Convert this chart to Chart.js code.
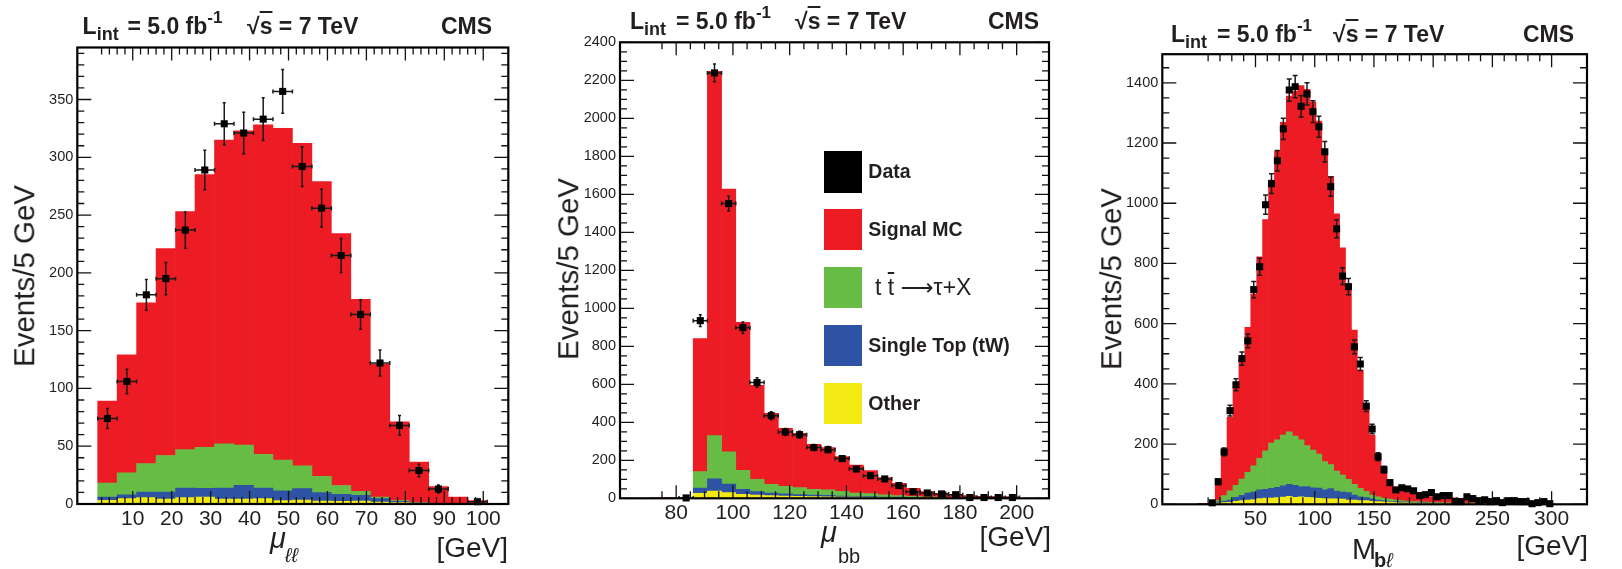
<!DOCTYPE html>
<html>
<head>
<meta charset="utf-8">
<title>Event distributions</title>
<script src="https://cdn.jsdelivr.net/npm/chart.js@4.4.1/dist/chart.umd.min.js"></script>
<style>
  html, body { margin: 0; padding: 0; background: #fff; }
  #page { position: relative; width: 1622px; height: 569px; overflow: hidden;
          font-family: "Liberation Sans", Arial, Helvetica, sans-serif; color: #231f20; }
  #page canvas { position: absolute; top: 0; }
  .txt { position: absolute; white-space: nowrap; }
  .key { position: absolute; }
  .arrow { font-family: "DejaVu Sans", sans-serif; }
</style>
</head>
<body>
<div id="page">
  <canvas id="llChart" width="540" height="569" style="left:0"></canvas>
  <canvas id="bbChart" width="540" height="569" style="left:540px"></canvas>
  <canvas id="blChart" width="542" height="569" style="left:1080px"></canvas>
</div>
<script>
// mu_ll : 5 GeV bins starting at 1 GeV
const llCenters = [3.5, 8.5, 13.5, 18.5, 23.5, 28.5, 33.5, 38.5, 43.5, 48.5, 53.5, 58.5, 63.5, 68.5, 73.5, 78.5, 83.5, 88.5, 93.5, 98.5];
const llSignal = [71, 102, 139, 179, 206, 236, 263, 272, 285, 287, 279, 255, 218, 166, 115, 68, 35, 14.4, 5.7, 2.8];
const llTtbar = [12, 19, 24.6, 31.6, 33.2, 35.5, 38.2, 34.8, 29.2, 26.5, 19.7, 14.2, 7.6, 3.5, 1.4, 0.7, 0.3, 0.2, 0.1, 0.1];
const llSingleTop = [2.8, 3.4, 4.9, 6.1, 8.3, 7.5, 9.5, 11.9, 9.2, 8.6, 9.8, 7.2, 6.1, 4.9, 2.9, 1.1, 0.4, 0.2, 0.1, 0];
const llOther = [3.2, 4.6, 5.5, 4.3, 5.5, 6.0, 4.3, 4.3, 4.6, 2.9, 3.5, 2.6, 2.3, 2.6, 1.7, 1.2, 0.5, 0.2, 0.1, 0.1];
const llData = [74, 106, 181, 195, 237, 289, 329, 321, 333, 357, 292, 256, 215, 164, 122, 68, 29, 13, null, 2];
const llErr = [8.7, 10.5, 13.3, 14, 15.6, 17, 18.3, 18, 18.5, 18.9, 17.2, 16.3, 14.7, 12.8, 11.2, 8.5, 5.5, 3.5, null, 1.4];
const llXTicks = [10, 20, 30, 40, 50, 60, 70, 80, 90, 100];
const llYTicks = [0, 50, 100, 150, 200, 250, 300, 350];

// mu_bb : 5 GeV bins starting at 71 GeV
const bbCenters = [73.5, 78.5, 83.5, 88.5, 93.5, 98.5, 103.5, 108.5, 113.5, 118.5, 123.5, 128.5, 133.5, 138.5, 143.5, 148.5, 153.5, 158.5, 163.5, 168.5, 173.5, 178.5, 183.5, 188.5, 193.5, 198.5];
const bbSignal = [4, 4, 4, 700, 1917, 1384, 779, 495, 373, 305, 286, 237, 223, 182, 147, 121, 91, 65, 43, 27, 20, 16, 10, 7, 7, 6];
const bbTtbar = [0, 0, 0, 86, 228, 169, 100, 65, 46, 40, 37, 30, 29, 25, 18, 16, 11, 8, 5, 4, 3, 2, 2, 1, 1, 1];
const bbSingleTop = [0, 0, 0, 28, 64, 45, 26, 18, 14, 11, 9, 8, 7, 5, 4, 4, 3, 3, 2, 2, 1, 2, 1, 1, 0.5, 0.5];
const bbOther = [0, 0, 0, 26, 38, 30, 21, 17, 14, 12, 10, 9, 8, 7, 6, 5, 4, 3, 3, 2, 2, 1, 1, 1, 0.5, 0.5];
const bbData = [null, null, 2, 935, 2239, 1551, 898, 609, 435, 349, 335, 267, 256, 209, 154, 119, 102, 67, 35, 28, 23, 19, 4, 4, 4, 4];
const bbErr = [null, null, 1.4, 31, 47, 39, 30, 25, 21, 19, 18, 16, 16, 14, 12, 11, 10, 8, 6, 5, 5, 4, 2, 2, 2, 2];
const bbXTicks = [80, 100, 120, 140, 160, 180, 200];
const bbYTicks = [0, 200, 400, 600, 800, 1000, 1200, 1400, 1600, 1800, 2000, 2200, 2400];

// M_bl : 5 GeV bins starting at 1 GeV
const blCenters = [3.5, 8.5, 13.5, 18.5, 23.5, 28.5, 33.5, 38.5, 43.5, 48.5,
  53.5, 58.5, 63.5, 68.5, 73.5, 78.5, 83.5, 88.5, 93.5, 98.5,
  103.5, 108.5, 113.5, 118.5, 123.5, 128.5, 133.5, 138.5, 143.5, 148.5,
  153.5, 158.5, 163.5, 168.5, 173.5, 178.5, 183.5, 188.5, 193.5, 198.5,
  203.5, 208.5, 213.5, 218.5, 223.5, 228.5, 233.5, 238.5, 243.5, 248.5,
  253.5, 258.5, 263.5, 268.5, 273.5, 278.5, 283.5, 288.5, 293.5, 298.5];
const blSignal = [3, 3, 4, 54, 146, 244, 325, 397, 482, 570,
  669, 768, 874, 960, 1039, 1115, 1145, 1177, 1183, 1156,
  1106, 1037, 957, 855, 755, 632, 513, 393, 283, 199,
  124, 83, 55, 38, 33, 29, 25, 22, 21, 20,
  18, 18, 17, 17, 16, 15, 13, 12, 11, 10,
  10, 9, 8, 7, 7, 6, 6, 5, 5, 4];
const blTtbar = [0, 0, 0, 4, 18, 31, 40, 54, 69, 87,
  105, 128, 150, 158, 169, 175, 164, 155, 136, 125,
  113, 94, 80, 66, 56, 44, 35, 28, 21, 13,
  11, 8, 7, 5, 4, 3, 3, 3, 2.5, 2,
  2, 1.5, 1.5, 1.5, 1.2, 1.2, 1.2, 1, 1, 1,
  1, 0.8, 0.8, 0.8, 0.8, 0.6, 0.6, 0.6, 0.5, 0.5];
const blSingleTop = [0, 0, 0, 4, 5.5, 7.4, 13, 18, 23, 25.5,
  29, 29, 32, 34, 37, 39.5, 40, 34, 36, 33,
  34, 29, 34, 26, 24, 25, 17, 13, 10, 8,
  5, 4, 3, 3, 3, 2, 2, 1.5, 1.5, 1,
  1, 1, 1, 1, 1, 1, 1, 1, 1, 1,
  0.8, 0.8, 0.8, 0.6, 0.6, 0.6, 0.5, 0.5, 0.5, 0.5];
const blOther = [0, 0, 0, 4, 5.5, 6.6, 10, 12, 14, 15.5,
  19, 21, 21, 22, 24, 26.5, 23, 25, 23, 22,
  20, 19, 18, 18, 17, 14, 14, 12, 12, 10,
  9, 8, 7, 6, 5, 5, 4, 4, 3, 3,
  3, 3, 2, 2, 2, 2, 2, 2, 1, 1,
  1, 1, 1, 1, 1, 1, 1, 0.5, 0.5, 0.5];
const blData = [null, null, 5, 75, 174, 311, 397, 484, 543, 713,
  789, 995, 1065, 1141, 1247, 1376, 1387, 1322, 1363, 1304,
  1254, 1171, 1055, 915, 758, 723, 523, 466, 326, 250,
  158, 115, 72, 48, 55, 51, 45, 29, 32, 39,
  25, 29, 29, 9, 9, 25, 19, 12, 15, 9,
  12, 5.5, 12, 12, 9, 9, 2, 5.5, 9, 2];
const blErr = [null, null, 2, 9, 13, 18, 20, 22, 23, 27,
  28, 32, 33, 34, 35, 37, 37, 36, 37, 36,
  35, 34, 32, 30, 28, 27, 23, 22, 18, 16,
  13, 11, 8, 7, 7, 7, 7, 5, 6, 6,
  5, 5, 5, 3, 3, 5, 4, 3, 4, 3,
  3, 2, 3, 3, 3, 3, 1.4, 2, 3, 1.4];
const blXTicks = [50, 100, 150, 200, 250, 300];
const blYTicks = [0, 200, 400, 600, 800, 1000, 1200, 1400];

const colors = { signal: "#ed1c24", ttbar: "#67bc45", singleTop: "#2e53a4", other: "#f2ea12", data: "#000000" };
const ink = "#231f20";
const family = '"Liberation Sans", Arial, Helvetica, sans-serif';
const page = document.getElementById("page");

function points(xs, ys) {
  return xs.map((x, i) => ({ x: x, y: ys[i] }));
}

function onStep(v, step) {
  return Math.abs(v / step - Math.round(v / step)) < 1e-6;
}

// ROOT style frame: ticks on all four sides, pointing inwards
const frameTicks = {
  id: "frameTicks",
  afterDatasetsDraw(chart, args, opts) {
    const ctx = chart.ctx, a = chart.chartArea;
    const x = chart.scales.x, y = chart.scales.y;
    ctx.save();
    ctx.strokeStyle = "#111";
    ctx.lineWidth = 1.3;
    ctx.beginPath();
    for (let i = Math.ceil(x.min / opts.xMinor); i * opts.xMinor <= x.max + 1e-9; i++) {
      const v = i * opts.xMinor;
      const px = x.getPixelForValue(v);
      const len = onStep(v, opts.xMajor) ? 13 : 7;
      ctx.moveTo(px, a.bottom); ctx.lineTo(px, a.bottom - len);
      ctx.moveTo(px, a.top); ctx.lineTo(px, a.top + len);
    }
    for (let i = Math.ceil(y.min / opts.yMinor); i * opts.yMinor <= y.max + 1e-9; i++) {
      const v = i * opts.yMinor;
      const py = y.getPixelForValue(v);
      const len = onStep(v, opts.yMajor) ? 14 : 7;
      ctx.moveTo(a.left, py); ctx.lineTo(a.left + len, py);
      ctx.moveTo(a.right, py); ctx.lineTo(a.right - len, py);
    }
    ctx.stroke();
    ctx.lineWidth = 2.2;
    ctx.strokeStyle = "#000";
    ctx.strokeRect(a.left, a.top, a.right - a.left, a.bottom - a.top);
    ctx.restore();
  }
};

// error bars for the data points, drawn just under the markers
const errorBars = {
  id: "errorBars",
  beforeDatasetDraw(chart, args, opts) {
    if (args.index !== 0) return;
    const ctx = chart.ctx, a = chart.chartArea;
    const x = chart.scales.x, y = chart.scales.y;
    const ds = chart.data.datasets[0];
    ctx.save();
    ctx.beginPath();
    ctx.rect(a.left, a.top, a.right - a.left, a.bottom - a.top);
    ctx.clip();
    ctx.strokeStyle = "#1a1a1a";
    ctx.lineWidth = 1.5;
    ctx.beginPath();
    ds.data.forEach((p, i) => {
      const e = ds.errors[i];
      if (p.y == null || e == null) return;
      const px = x.getPixelForValue(p.x);
      const py = y.getPixelForValue(p.y);
      const top = y.getPixelForValue(p.y + e);
      const bot = Math.min(y.getPixelForValue(p.y - e), a.bottom);
      ctx.moveTo(px, top); ctx.lineTo(px, bot);
      ctx.moveTo(px - opts.cap, top); ctx.lineTo(px + opts.cap, top);
      ctx.moveTo(px - opts.cap, bot); ctx.lineTo(px + opts.cap, bot);
      if (opts.halfWidth) {
        const l = x.getPixelForValue(p.x - opts.halfWidth);
        const r = x.getPixelForValue(p.x + opts.halfWidth);
        ctx.moveTo(l, py); ctx.lineTo(r, py);
        ctx.moveTo(l, py - 2); ctx.lineTo(l, py + 2);
        ctx.moveTo(r, py - 2); ctx.lineTo(r, py + 2);
      }
    });
    ctx.stroke();
    ctx.restore();
  }
};

function drawPanel(id, p) {
  return new Chart(document.getElementById(id), {
    type: "bar",
    data: {
      datasets: [
        { type: "scatter", label: "Data", data: points(p.centers, p.data), errors: p.errors,
          backgroundColor: colors.data, borderWidth: 0, pointStyle: "rect", pointRadius: 5,
          stack: "data", clip: false },
        { label: "Other", data: points(p.centers, p.other), backgroundColor: colors.other },
        { label: "Single Top (tW)", data: points(p.centers, p.singleTop), backgroundColor: colors.singleTop },
        { label: "ttbar", data: points(p.centers, p.ttbar), backgroundColor: colors.ttbar },
        { label: "Signal MC", data: points(p.centers, p.signal), backgroundColor: colors.signal }
      ]
    },
    options: {
      responsive: false,
      animation: false,
      events: [],
      devicePixelRatio: 1,
      layout: { padding: p.padding },
      datasets: { bar: { barPercentage: 1, categoryPercentage: 1, borderWidth: 0 } },
      plugins: {
        legend: { display: false },
        tooltip: { enabled: false },
        frameTicks: { xMinor: p.xMinor, xMajor: p.xMajor, yMinor: p.yMinor, yMajor: p.yMajor },
        errorBars: { halfWidth: p.xErr, cap: p.cap }
      },
      scales: {
        x: {
          type: "linear", min: p.xMin, max: p.xMax, stacked: true,
          grid: { display: false, drawTicks: false },
          border: { display: false },
          afterBuildTicks: s => { s.ticks = p.xTicks.map(v => ({ value: v })); },
          afterFit: s => { s.height = 30; },
          ticks: { autoSkip: false, maxRotation: 0, padding: 2.5, color: ink,
                   font: { family: family, size: 21 }, callback: v => String(v) }
        },
        y: {
          min: 0, max: p.yMax, stacked: true,
          grid: { display: false, drawTicks: false },
          border: { display: false },
          afterBuildTicks: s => { s.ticks = p.yTicks.map(v => ({ value: v })); },
          afterFit: s => { s.width = 60; },
          ticks: { autoSkip: false, padding: 4, color: ink,
                   font: { family: family, size: 14.5 }, callback: v => String(v) }
        }
      }
    },
    plugins: [errorBars, frameTicks]
  });
}

drawPanel("llChart", {
  centers: llCenters, signal: llSignal, ttbar: llTtbar, singleTop: llSingleTop, other: llOther,
  data: llData, errors: llErr, xTicks: llXTicks, yTicks: llYTicks,
  xMin: 1.3, xMax: 100.9, yMax: 395, xMinor: 2, xMajor: 10, yMinor: 10, yMajor: 50,
  xErr: 2.5, cap: 1.5,
  padding: { left: 17.3, right: 31.7, top: 47.5, bottom: 35 }
});

drawPanel("bbChart", {
  centers: bbCenters, signal: bbSignal, ttbar: bbTtbar, singleTop: bbSingleTop, other: bbOther,
  data: bbData, errors: bbErr, xTicks: bbXTicks, yTicks: bbYTicks,
  xMin: 71, xMax: 200.6, yMax: 2400, xMinor: 5, xMajor: 20, yMinor: 50, yMajor: 200,
  xErr: 2.5, cap: 1.5,
  padding: { left: 20, right: 31, top: 42.3, bottom: 40.7 }
});

drawPanel("blChart", {
  centers: blCenters, signal: blSignal, ttbar: blTtbar, singleTop: blSingleTop, other: blOther,
  data: blData, errors: blErr, xTicks: blXTicks, yTicks: blYTicks,
  xMin: 1.2, xMax: 300, yMax: 1495, xMinor: 10, xMajor: 50, yMinor: 50, yMajor: 200,
  xErr: 0, cap: 2.5,
  padding: { left: 22.3, right: 35, top: 54.2, bottom: 34.7 }
});

// text placed by its baseline
function put(html, x, baseline, size, style) {
  const el = document.createElement("div");
  el.className = "txt";
  el.innerHTML = html;
  el.style.fontSize = size + "px";
  el.style.lineHeight = size + "px";
  el.style.left = x + "px";
  el.style.top = (baseline - 0.8465 * size) + "px";
  Object.assign(el.style, style || {});
  page.appendChild(el);
  return el;
}

function putRight(html, right, baseline, size, style) {
  const el = put(html, 0, baseline, size, style);
  el.style.left = "auto";
  el.style.right = (1622 - right) + "px";
  return el;
}

const bold = { fontWeight: "bold" };

function header(xL, xEq, xRoot, cmsRight, baseline) {
  put('L<span style="font-size:18px;position:relative;top:6px">int</span>', xL, baseline, 23, bold);
  put('= 5.0 fb<span style="font-size:17px;position:relative;top:-11px">-1</span>', xEq, baseline, 23, bold);
  put('\u221A<span style="text-decoration:overline">s</span> = 7 TeV', xRoot, baseline, 23, bold);
  putRight("CMS", cmsRight, baseline, 23, bold);
}

header(82.6, 127.4, 247, 492, 34.4);
header(630, 676, 795, 1039, 29.8);
header(1171, 1217, 1333, 1574, 42.8);

function yTitle(cx, cy) {
  const el = put("Events/5 GeV", 0, 0, 29.5);
  el.style.left = cx + "px";
  el.style.top = cy + "px";
  el.style.transform = "translate(-50%, -50%) rotate(-90deg)";
}

yTitle(24, 275.8);
yTitle(567.5, 268.5);
yTitle(1111, 279.4);

// axis titles
put("\u03BC", 270, 548.5, 29, { fontStyle: "italic" });
put("\u2113\u2113", 285, 562, 20, { fontStyle: "italic" });
putRight("[GeV]", 508, 558, 28);

put("\u03BC", 821, 542.5, 29, { fontStyle: "italic" });
put("bb", 838, 563, 20);
putRight("[GeV]", 1051, 547, 28);

put("M", 1352, 560, 29);
put('<b>b</b><i>\u2113</i>', 1374, 567, 20);
putRight("[GeV]", 1588, 556, 28);

// legend for the middle panel
const legendItems = [
  { label: "Data", color: colors.data, weight: "bold", size: 19.5 },
  { label: "Signal MC", color: colors.signal, weight: "bold", size: 19.5 },
  { label: 't <span style="text-decoration:overline">t</span> <span class="arrow">\u27F6</span>\u03C4+X', color: colors.ttbar, weight: "normal", size: 23, dx: 6.7 },
  { label: "Single Top (tW)", color: colors.singleTop, weight: "bold", size: 19.5 },
  { label: "Other", color: colors.other, weight: "bold", size: 19.5 }
];
legendItems.forEach((item, i) => {
  const top = 151 + i * 57.9;
  const box = document.createElement("div");
  box.className = "key";
  Object.assign(box.style, { left: "824.4px", top: top + "px", width: "37.6px", height: "41.6px", background: item.color });
  page.appendChild(box);
  const mid = top + 20.8;
  put(item.label, 868.3 + (item.dx || 0), mid + 0.358 * item.size, item.size, { fontWeight: item.weight });
});
</script>
</body>
</html>
